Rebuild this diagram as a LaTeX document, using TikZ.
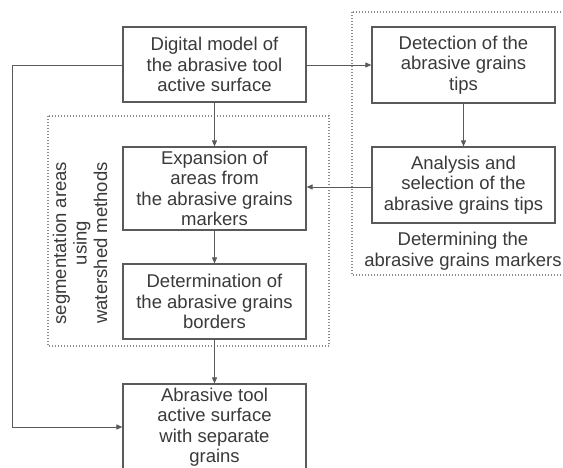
\documentclass[tikz,border=0pt]{standalone}
\usepackage{fontspec}
\setmainfont{Liberation Sans}
\usetikzlibrary{arrows.meta}
\definecolor{txt}{HTML}{3A3A3A}
\definecolor{edge}{HTML}{5A5A5A}
\definecolor{dots}{HTML}{8A8A8A}
\tikzset{
  box/.style={draw=edge, line width=1.2pt, minimum width=183pt, align=center, text=txt,
    font=\fontsize{18.5pt}{20.5pt}\selectfont, inner sep=0pt},
  lbl/.style={align=center, text=txt, font=\fontsize{18.5pt}{20.5pt}\selectfont, inner sep=0pt},
  conn/.style={draw=edge, line width=1pt, -{Triangle[length=6pt,width=5pt]}},
  region/.style={draw=dots, line width=1.1pt, dash pattern=on 1pt off 2pt}
}
\begin{document}
\begin{tikzpicture}[x=1pt,y=-1pt]
\useasboundingbox (0,0) rectangle (563,467);
\clip (0,0) rectangle (563,467);
\fill[white] (0,0) rectangle (563,467);
% regions
\draw[region] (352,12) rectangle (600,275);
\draw[region] (48,116) rectangle (329,346);
% boxes
\node[box, minimum height=75pt] (dm) at (214.5,64.5) {Digital model of\\the abrasive tool\\active surface};
\node[box, minimum height=76pt] (det) at (463.5,65) {Detection of the\\abrasive grains\\tips};
\node[box, minimum height=76pt] (ana) at (463.5,185) {Analysis and\\selection of the\\abrasive grains tips};
\node[box, minimum height=83pt] (exp) at (214.5,188.5) {Expansion of\\areas from\\the abrasive grains\\markers};
\node[box, minimum height=75pt] (bor) at (214.5,301.5) {Determination of\\the abrasive grains\\borders};
\node[box, minimum height=86pt] (res) at (214.5,427) {Abrasive tool\\active surface\\with separate\\grains};
\node[lbl] (detlbl) at (463,251) {Determining the\\abrasive grains markers};
\node[lbl, rotate=90] (seglbl) at (80,243) {segmentation areas\\using\\watershed methods};
% connectors
\draw[conn] (dm.east |- 0,65) -- (det.west |- 0,65);
\draw[conn] (dm.south) -- (exp.north);
\draw[conn] (det.south) -- (ana.north);
\draw[conn] (ana.west |- 0,187) -- (exp.east |- 0,187);
\draw[conn] (exp.south) -- (bor.north);
\draw[conn] (bor.south) -- (res.north);
\coordinate (lt) at (12,65);
\coordinate (lb) at (12,427);
\draw[conn] (dm.west |- 0,65) -- (lt) -- (lb) -- (res.west |- 0,427);
\end{tikzpicture}
\end{document}
